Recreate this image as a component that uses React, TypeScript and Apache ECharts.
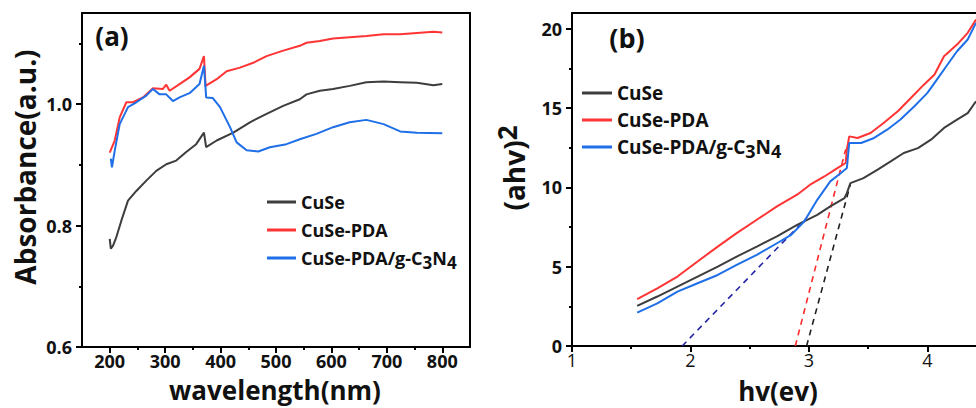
import React, { useEffect, useRef } from "react";
import * as echarts from "echarts";

const FONT = "'Open Sans', 'Noto Sans', sans-serif";
const seriesNames = ["CuSe", "CuSe-PDA", "CuSe-PDA/g-C3N4"];
const lineColors = ["#3d3d3d", "#ff3434", "#1f6fe8"];
const dashColors = ["#1f1f1f", "#ff2a2a", "#2323a6"];

// ---------- panel (a): absorbance vs wavelength ----------
const cuseWl = [200, 202, 206, 212, 221, 233, 248, 266, 284, 302, 320, 338, 356, 370, 374, 393, 423, 453, 483, 513, 543, 555, 579, 603, 633, 663, 694, 724, 754, 784, 800];
const cuseAbs = [0.778, 0.762, 0.767, 0.781, 0.808, 0.841, 0.857, 0.874, 0.89, 0.901, 0.907, 0.921, 0.934, 0.953, 0.929, 0.94, 0.953, 0.97, 0.984, 0.997, 1.008, 1.016, 1.022, 1.025, 1.03, 1.036, 1.037, 1.036, 1.035, 1.031, 1.033];

const pdaWl = [200, 209, 218, 230, 242, 260, 278, 296, 302, 308, 326, 344, 362, 370, 373, 393, 411, 435, 459, 483, 513, 543, 555, 579, 603, 633, 663, 694, 724, 754, 784, 800];
const pdaAbs = [0.92, 0.94, 0.978, 1.003, 1.003, 1.011, 1.026, 1.025, 1.032, 1.022, 1.033, 1.044, 1.058, 1.079, 1.03, 1.041, 1.054, 1.06, 1.068, 1.079, 1.088, 1.096, 1.101, 1.104, 1.108, 1.11, 1.112, 1.115, 1.115, 1.117, 1.119, 1.118];

const gcnWl = [202, 204, 209, 218, 233, 248, 266, 278, 290, 302, 314, 326, 344, 362, 370, 374, 386, 399, 417, 429, 447, 468, 489, 519, 543, 573, 603, 633, 663, 694, 724, 754, 800];
const gcnAbs = [0.91, 0.896, 0.923, 0.967, 0.995, 1.003, 1.014, 1.025, 1.016, 1.016, 1.005, 1.011, 1.018, 1.033, 1.063, 1.011, 1.01, 0.995, 0.962, 0.937, 0.924, 0.922, 0.929, 0.934, 0.942, 0.951, 0.962, 0.97, 0.974, 0.967, 0.955, 0.953, 0.952];

const aXMajor = [200, 300, 400, 500, 600, 700, 800];
const aXMinor = [250, 350, 450, 550, 650, 750];
const aYMajor = [0.6, 0.8, 1.0];
const aYMinor = [0.7, 0.9, 1.1];

// ---------- panel (b): Tauc plot ----------
const cuseEv = [1.55, 1.72, 1.89, 2.06, 2.23, 2.39, 2.56, 2.73, 2.9, 3.07, 3.18, 3.3, 3.32, 3.35, 3.46, 3.58, 3.69, 3.8, 3.92, 4.03, 4.14, 4.25, 4.34, 4.41];
const cuseTauc = [2.53, 3.12, 3.75, 4.38, 5.01, 5.64, 6.27, 6.91, 7.64, 8.27, 8.8, 9.33, 9.64, 10.27, 10.59, 11.12, 11.64, 12.17, 12.48, 13.01, 13.75, 14.27, 14.69, 15.43];

const pdaEv = [1.55, 1.72, 1.89, 2.06, 2.23, 2.39, 2.56, 2.73, 2.9, 3.01, 3.13, 3.24, 3.31, 3.32, 3.34, 3.41, 3.52, 3.63, 3.75, 3.86, 3.97, 4.06, 4.14, 4.25, 4.34, 4.41];
const pdaTauc = [2.95, 3.64, 4.38, 5.33, 6.27, 7.12, 7.96, 8.8, 9.54, 10.17, 10.69, 11.22, 11.54, 12.38, 13.22, 13.12, 13.43, 14.06, 14.8, 15.64, 16.48, 17.12, 18.27, 19.01, 19.75, 20.59];

const gcnEv = [1.55, 1.72, 1.89, 2.06, 2.23, 2.39, 2.56, 2.73, 2.85, 2.96, 3.07, 3.18, 3.27, 3.32, 3.34, 3.44, 3.55, 3.66, 3.77, 3.89, 4.0, 4.08, 4.17, 4.25, 4.34, 4.41];
const gcnTauc = [2.11, 2.69, 3.43, 3.96, 4.48, 5.12, 5.75, 6.48, 7.01, 7.85, 9.22, 10.38, 10.91, 11.22, 12.8, 12.8, 13.12, 13.64, 14.27, 15.12, 15.96, 16.8, 17.75, 18.59, 19.33, 20.38];

// tangent (band-gap) extrapolation lines: [start ev, start y, end ev, end y]
const cuseFit = [2.98, 0, 3.35, 10.2];
const pdaFit = [2.885, 0, 3.31, 12.4];
const gcnFit = [1.93, 0, 2.97, 8.0];

const bXMajor = [1, 2, 3, 4];
const bXMinor = [1.5, 2.5, 3.5];
const bYMajor = [0, 5, 10, 15, 20];
const bYMinor = [2.5, 7.5, 12.5, 17.5];

const zip = (xs: number[], ys: number[]) => xs.map((x, i) => [x, ys[i]]);
const fitPts = (f: number[]) => [[f[0], f[1]], [f[2], f[3]]];

const legendFmt = (name: string) =>
  name === "CuSe-PDA/g-C3N4" ? "{n|CuSe-PDA/g-C}{s|3}{n|N}{s|4}" : `{n|${name}}`;

export default function App() {
  const ref = useRef<HTMLDivElement>(null);
  useEffect(() => {
    if (!ref.current) return;
    const chart = echarts.init(ref.current, null, { renderer: "svg" });
    const axisLineStyle = { color: "#000", width: 2 };
    const boldLabel = { color: "#111", fontFamily: FONT, fontWeight: "bold" as const, fontSize: 18, lineHeight: 16 };
    const mkMain = (grid: number, min: number, max: number, major: number[], pos: string, labelExtra: any) => ({
      type: "value",
      gridIndex: grid,
      min,
      max,
      position: pos,
      splitLine: { show: false },
      axisLine: { show: true, onZero: false, lineStyle: axisLineStyle },
      axisTick: { show: true, inside: false, length: 6, customValues: major, lineStyle: { color: "#000", width: 2 } },
      axisLabel: { show: true, customValues: major, ...labelExtra },
    });
    const mkMinor = (grid: number, min: number, max: number, minor: number[], pos: string) => ({
      type: "value",
      gridIndex: grid,
      min,
      max,
      position: pos,
      splitLine: { show: false },
      axisLine: { show: false, onZero: false },
      axisTick: { show: true, inside: false, length: 3, customValues: minor, lineStyle: { color: "#000", width: 2 } },
      axisLabel: { show: false },
    });
    const mkFrame = (grid: number, min: number, max: number, pos: string) => ({
      type: "value",
      gridIndex: grid,
      min,
      max,
      position: pos,
      splitLine: { show: false },
      axisLine: { show: true, onZero: false, lineStyle: axisLineStyle },
      axisTick: { show: false },
      axisLabel: { show: false },
    });

    const lineSeries = (name: string, data: number[][], color: string, xi: number, yi: number) => ({
      type: "line",
      name,
      data,
      xAxisIndex: xi,
      yAxisIndex: yi,
      symbol: "none",
      lineStyle: { color, width: 2 },
      itemStyle: { color },
      z: 3,
    });
    const dashSeries = (name: string, data: number[][], color: string) => ({
      type: "line",
      name,
      data,
      xAxisIndex: 3,
      yAxisIndex: 3,
      symbol: "none",
      lineStyle: { color, width: 1.6, type: [6, 5] },
      itemStyle: { color },
      z: 2,
    });

    const legendText = (size: number) => ({
      fontFamily: FONT,
      fontWeight: "bold",
      fontSize: size,
      color: "#111",
      lineHeight: 26,
      rich: {
        n: { fontFamily: FONT, fontWeight: "bold", fontSize: size, color: "#111", lineHeight: 26 },
        s: { fontFamily: FONT, fontWeight: "bold", fontSize: size - 1, color: "#111", lineHeight: 18, padding: [8, 0, 0, 0] },
      },
    });

    const titleStyle = (text: string, size: number) => ({
      text,
      font: `bold ${size}px ${FONT}`,
      fill: "#111",
      align: "center",
      verticalAlign: "middle",
    });

    chart.setOption({
      animation: false,
      backgroundColor: "#fff",
      grid: [
        { left: 82, top: 13, width: 388, height: 334 },
        { left: 572, top: 13, width: 404, height: 333 },
      ],
      xAxis: [
        mkMain(0, 150, 850, aXMajor, "bottom", { ...boldLabel, margin: 6 }),
        mkMinor(0, 150, 850, aXMinor, "bottom"),
        mkFrame(0, 150, 850, "top"),
        mkMain(1, 1, 4.41, bXMajor, "bottom", { color: "#111", fontFamily: FONT, fontSize: 18, lineHeight: 16, margin: 6 }),
        mkMinor(1, 1, 4.41, bXMinor, "bottom"),
        mkFrame(1, 1, 4.41, "top"),
      ],
      yAxis: [
        mkMain(0, 0.6, 1.15, aYMajor, "left", { ...boldLabel, margin: 10, formatter: (v: number) => v.toFixed(1) }),
        mkMinor(0, 0.6, 1.15, aYMinor, "left"),
        mkFrame(0, 0.6, 1.15, "right"),
        mkMain(1, 0, 21, bYMajor, "left", { ...boldLabel, margin: 10 }),
        mkMinor(1, 0, 21, bYMinor, "left"),
      ],
      legend: [
        {
          orient: "vertical",
          left: 267,
          top: 189,
          padding: 0,
          itemGap: 2,
          itemWidth: 29,
          itemHeight: 3,
          icon: "rect",
          selectedMode: false,
          data: seriesNames,
          formatter: legendFmt,
          textStyle: legendText(18),
        },
        {
          orient: "vertical",
          left: 582,
          top: 80,
          padding: 0,
          itemGap: 1,
          itemWidth: 30,
          itemHeight: 3,
          icon: "rect",
          selectedMode: false,
          data: seriesNames,
          formatter: legendFmt,
          textStyle: legendText(19),
        },
      ],
      graphic: [
        { type: "text", x: 112, y: 36, style: titleStyle("(a)", 26) },
        { type: "text", x: 627, y: 37, style: titleStyle("(b)", 27) },
        { type: "text", x: 25, y: 167, rotation: Math.PI / 2, style: titleStyle("Absorbance(a.u.)", 28) },
        {
          type: "text",
          x: 514,
          y: 168,
          rotation: Math.PI / 2,
          style: {
            text: "{m|(ahv)}{p|2}",
            align: "center",
            verticalAlign: "middle",
            rich: {
              m: { font: `bold 28px ${FONT}`, fill: "#111", lineHeight: 34 },
              p: { font: `bold 26px ${FONT}`, fill: "#111", lineHeight: 20, padding: [0, 0, 14, 0] },
            },
          },
        },
        { type: "text", x: 275, y: 390, style: titleStyle("wavelength(nm)", 26) },
        { type: "text", x: 778, y: 391, style: titleStyle("hv(ev)", 26) },
      ],
      series: [
        lineSeries(seriesNames[0], zip(cuseWl, cuseAbs), lineColors[0], 0, 0),
        lineSeries(seriesNames[1], zip(pdaWl, pdaAbs), lineColors[1], 0, 0),
        lineSeries(seriesNames[2], zip(gcnWl, gcnAbs), lineColors[2], 0, 0),
        lineSeries(seriesNames[0], zip(cuseEv, cuseTauc), lineColors[0], 3, 3),
        lineSeries(seriesNames[1], zip(pdaEv, pdaTauc), lineColors[1], 3, 3),
        lineSeries(seriesNames[2], zip(gcnEv, gcnTauc), lineColors[2], 3, 3),
        dashSeries("CuSe fit", fitPts(cuseFit), dashColors[0]),
        dashSeries("CuSe-PDA fit", fitPts(pdaFit), dashColors[1]),
        dashSeries("CuSe-PDA/g-C3N4 fit", fitPts(gcnFit), dashColors[2]),
      ],
    });
    return () => chart.dispose();
  }, []);
  return <div ref={ref} style={{ width: 976, height: 408, position: "absolute", left: 0, top: 0 }} />;
}
